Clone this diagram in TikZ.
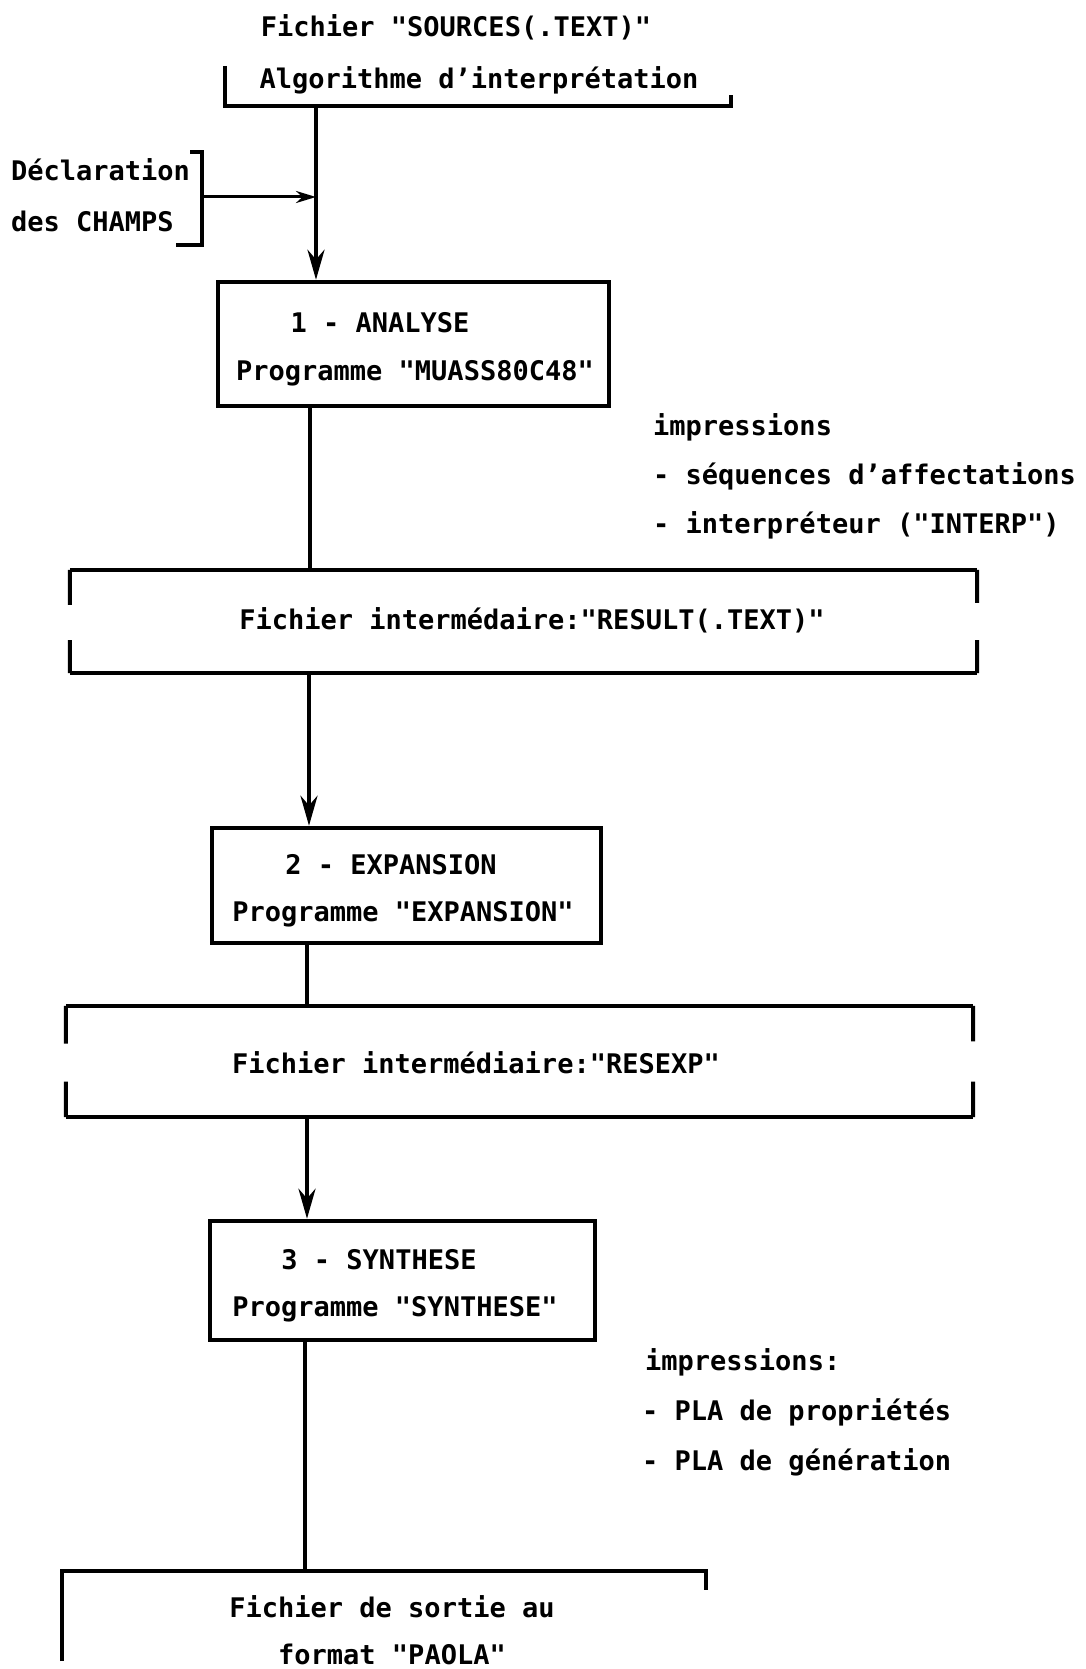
\documentclass[tikz,border=0pt]{standalone}
\usepackage{fontspec}
\setmonofont{DejaVu Sans Mono}
\usetikzlibrary{arrows.meta,calc}

\tikzset{
  txt/.style={font=\ttfamily\bfseries\fontsize{27}{31}\selectfont, inner sep=0pt},
  prog/.style={draw, line width=4.5pt, inner sep=0pt},
  fich/.style={inner sep=0pt},
  trait/.style={line width=4pt},
  flux/.style={trait, -{Stealth[length=30pt,width=17pt]}},
  petit/.style={line width=3pt, -{Stealth[length=20pt,width=12pt]}}
}

\begin{document}
\begin{tikzpicture}[x=1pt,y=-1pt]
  \useasboundingbox (0,0) rectangle (1085,1669);

  % source et algorithme
  \node[txt] (src) at (456,27) {Fichier "SOURCES(.TEXT)"};
  \node[fich, minimum width=506pt, minimum height=40pt] (alg) at (478,86) {};
  \node[txt] (algt) at (479,80) {Algorithme d’interprétation};
  \draw[trait] (alg.north west) -- (alg.south west) -- (alg.south east) -- ++(0,-11);

  % declaration des champs
  \node[txt, anchor=west] (decl) at (11,170) {Déclaration};
  \node[txt, anchor=west] (chp) at (11,221) {des CHAMPS};
  \draw[trait] (190,152) -- (202,152) -- (202,245) -- (176,245);
  \coordinate (acc) at (202,197);
  \coordinate (a1) at (316,106);

  % boites programmes
  \node[prog, minimum width=391pt, minimum height=124pt] (ana) at (413.5,344) {};
  \node[txt] (anat) at (380,323) {1 - ANALYSE};
  \node[txt] (anap) at (415,373) {Programme "MUASS80C48"};

  \node[prog, minimum width=389pt, minimum height=115pt] (exp) at (406.5,885.5) {};
  \node[txt] (expt) at (391,865) {2 - EXPANSION};
  \node[txt] (expp) at (403,914) {Programme "EXPANSION"};

  \node[prog, minimum width=385pt, minimum height=119pt] (syn) at (402.5,1280.5) {};
  \node[txt] (synt) at (379,1260) {3 - SYNTHESE};
  \node[txt] (synp) at (395,1309) {Programme "SYNTHESE"};

  % fichiers intermediaires
  \node[fich, minimum width=907pt, minimum height=103pt] (res) at (523.5,621.5) {};
  \node[txt] (rest) at (532,620) {Fichier intermédaire:"RESULT(.TEXT)"};
  \node[fich, minimum width=907pt, minimum height=111pt] (rex) at (519.5,1061.5) {};
  \node[txt] (rext) at (476,1063) {Fichier intermédiaire:"RESEXP"};
  \foreach \f in {res,rex} {
    \draw[trait] (\f.north west) -- (\f.north east);
    \draw[trait] (\f.south west) -- (\f.south east);
    \draw[trait] (\f.north west) -- ($(\f.north west)!0.34!(\f.south west)$);
    \draw[trait] (\f.south west) -- ($(\f.south west)!0.32!(\f.north west)$);
    \draw[trait] (\f.north east) -- ($(\f.north east)!0.32!(\f.south east)$);
    \draw[trait] (\f.south east) -- ($(\f.south east)!0.32!(\f.north east)$);
  }

  % fichier de sortie
  \node[fich, minimum width=644pt, minimum height=90pt] (out) at (384,1616) {};
  \node[txt] (outa) at (392,1607) {Fichier de sortie au};
  \node[txt] (outb) at (392,1654) {format "PAOLA"};
  \draw[trait] (out.south west) -- (out.north west) -- (out.north east) -- ++(0,19);

  % impressions
  \node[txt, anchor=west] (imp1) at (653,427) {impressions};
  \node[txt, anchor=west] (imp1a) at (653,476) {- séquences d’affectations};
  \node[txt, anchor=west] (imp1b) at (653,525) {- interpréteur ("INTERP")};
  \node[txt, anchor=west] (imp2) at (645,1362) {impressions:};
  \node[txt, anchor=west] (imp2a) at (642,1412) {- PLA de propriétés};
  \node[txt, anchor=west] (imp2b) at (642,1462) {- PLA de génération};

  % liaisons
  \coordinate (b1) at (310,0);
  \coordinate (b2) at (309,0);
  \coordinate (b3) at (307,0);
  \coordinate (b4) at (305,0);
  \draw[flux] (a1) -- (ana.north -| a1);
  \draw[petit] (acc) -- (acc -| a1);
  \draw[trait] (ana.south -| b1) -- (res.north -| b1);
  \draw[flux] (res.south -| b2) -- (exp.north -| b2);
  \draw[trait] (exp.south -| b3) -- (rex.north -| b3);
  \draw[flux] (rex.south -| b3) -- (syn.north -| b3);
  \draw[trait] (syn.south -| b4) -- (out.north -| b4);
\end{tikzpicture}
\end{document}
